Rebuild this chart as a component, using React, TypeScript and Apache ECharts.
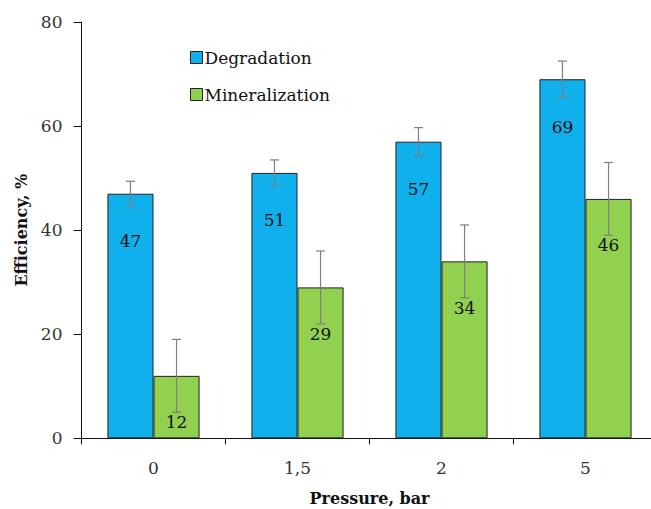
import React, { useEffect, useRef } from "react";
import * as echarts from "echarts";

const categories = ["0", "1,5", "2", "5"];
const degradation = [47, 51, 57, 69];
const mineralization = [12, 29, 34, 46];
const degradationErr = [2.4, 2.5, 2.7, 3.5];
const mineralizationErr = [7, 7, 7, 7];
const yTicks = [0, 20, 40, 60, 80];

const FONT = "DejaVu Serif";

export default function App() {
  const ref = useRef<HTMLDivElement>(null);
  useEffect(() => {
    if (!ref.current) return;
    const chart = echarts.init(ref.current, null, { renderer: "svg" });
    const errData: number[][] = [];
    degradation.forEach((v, i) => errData.push([i, v - degradationErr[i], v + degradationErr[i], 0]));
    mineralization.forEach((v, i) => errData.push([i, v - mineralizationErr[i], v + mineralizationErr[i], 1]));
    const gapRatio = 0.36;
    chart.setOption({
      animation: false,
      textStyle: { fontFamily: FONT },
      grid: { left: 81.5, top: 22, width: 576, height: 416.3, outerBoundsMode: "none", containLabel: false },
      legend: {
        orient: "vertical",
        left: 185,
        top: 44,
        itemWidth: 12,
        itemHeight: 12,
        itemGap: 20,
        icon: "rect",
        textStyle: { fontFamily: FONT, fontSize: 17, color: "#111", padding: [0, 0, 0, -3] },
        data: [
          { name: "Degradation", itemStyle: { color: "#10b0ec", borderColor: "#222", borderWidth: 1 } },
          { name: "Mineralization", itemStyle: { color: "#92d050", borderColor: "#222", borderWidth: 1 } },
        ],
      },
      xAxis: {
        type: "category",
        data: categories,
        name: "Pressure, bar",
        nameLocation: "middle",
        nameGap: 52,
        nameTextStyle: { fontFamily: FONT, fontSize: 16, fontWeight: "bold", color: "#111" },
        axisLine: { lineStyle: { color: "#111", width: 1 } },
        axisTick: { show: true, length: 6, lineStyle: { color: "#111" } },
        axisLabel: { fontFamily: FONT, fontSize: 17, color: "#333", margin: 21 },
      },
      yAxis: {
        type: "value",
        min: yTicks[0],
        max: yTicks[yTicks.length - 1],
        interval: 20,
        name: "Efficiency, %",
        nameLocation: "middle",
        nameGap: 52,
        nameTextStyle: { fontFamily: FONT, fontSize: 16, fontWeight: "bold", color: "#111" },
        axisLine: { show: true, lineStyle: { color: "#111", width: 1 } },
        axisTick: { show: true, length: 8, lineStyle: { color: "#111" } },
        axisLabel: { fontFamily: FONT, fontSize: 17, color: "#333", margin: 19 },
        splitLine: { show: false },
      },
      series: [
        {
          name: "Degradation",
          type: "bar",
          data: degradation,
          barGap: "0%",
          barCategoryGap: "36%",
          itemStyle: { color: "#10b0ec", borderColor: "#222", borderWidth: 1 },
          label: { show: true, position: "insideTop", distance: 39, fontFamily: FONT, fontSize: 17, color: "#111" },
        },
        {
          name: "Mineralization",
          type: "bar",
          data: mineralization,
          barGap: "0%",
          barCategoryGap: "36%",
          itemStyle: { color: "#92d050", borderColor: "#222", borderWidth: 1 },
          label: { show: true, position: "insideTop", distance: 38, fontFamily: FONT, fontSize: 17, color: "#111" },
        },
        {
          type: "custom",
          silent: true,
          z: 10,
          data: errData,
          renderItem: (params: any, api: any) => {
            const idx = api.value(0);
            const lo = api.value(1);
            const hi = api.value(2);
            const s = api.value(3);
            const catW = api.size([1, 0])[0];
            const barW = (catW * (1 - gapRatio)) / 2;
            const off = s === 0 ? -barW / 2 : barW / 2;
            const pHi = api.coord([idx, hi]);
            const pLo = api.coord([idx, lo]);
            const x = pHi[0] + off;
            const cap = 4.5;
            const style = { stroke: "#7f7f7f", lineWidth: 1.2 };
            return {
              type: "group",
              children: [
                { type: "line", shape: { x1: x, y1: pHi[1], x2: x, y2: pLo[1] }, style },
                { type: "line", shape: { x1: x - cap, y1: pHi[1], x2: x + cap, y2: pHi[1] }, style },
                { type: "line", shape: { x1: x - cap, y1: pLo[1], x2: x + cap, y2: pLo[1] }, style },
              ],
            };
          },
        },
      ],
    });
    return () => chart.dispose();
  }, []);
  return <div ref={ref} style={{ width: 651, height: 509, position: "absolute", left: 0, top: 0 }} />;
}
